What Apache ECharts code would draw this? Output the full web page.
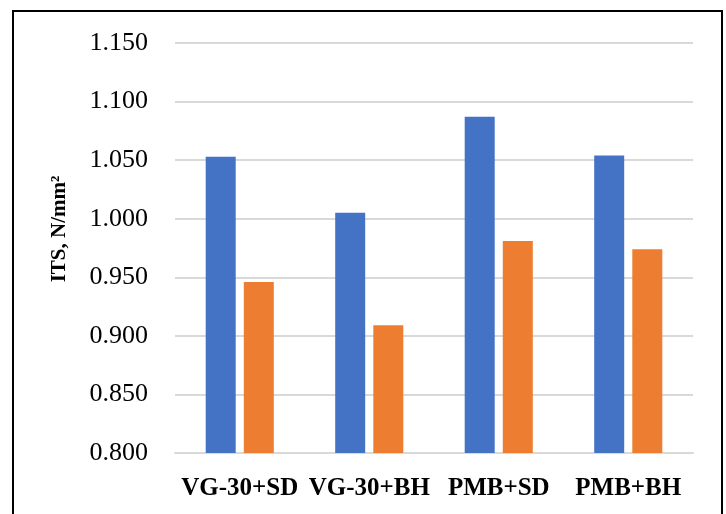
<!DOCTYPE html>
<html>
<head>
<meta charset="utf-8">
<script src="https://cdn.jsdelivr.net/npm/echarts@6/dist/echarts.min.js"></script>
<style>
  html, body { margin: 0; padding: 0; background: #fff; }
  #chart { width: 726px; height: 514px; }
</style>
</head>
<body>
<div id="chart"></div>
<script>
// Mix categories and the two ITS series (N/mm²)
const categories = ['VG-30+SD', 'VG-30+BH', 'PMB+SD', 'PMB+BH'];
const seriesA = [1.053, 1.005, 1.087, 1.054];
const seriesB = [0.946, 0.909, 0.981, 0.974];
const yTicks = { min: 0.8, max: 1.15, step: 0.05 };
const yTitle = 'ITS, N/mm²';

const serif = '"Liberation Serif", "DejaVu Serif", serif';

const chart = echarts.init(document.getElementById('chart'), null, { renderer: 'canvas' });

chart.setOption({
  animation: false,
  backgroundColor: '#ffffff',
  grid: { left: 175, right: 33, top: 43, bottom: 61, containLabel: false },
  xAxis: {
    type: 'category',
    data: categories,
    axisTick: { show: false },
    axisLine: { lineStyle: { color: '#d9d9d9', width: 2 } },
    axisLabel: {
      interval: 0,
      margin: 23,
      color: '#000',
      fontFamily: serif,
      fontWeight: 'bold',
      fontSize: 25
    }
  },
  yAxis: {
    type: 'value',
    min: yTicks.min,
    max: yTicks.max,
    interval: yTicks.step,
    axisLine: { show: false },
    axisTick: { show: false },
    splitLine: { lineStyle: { color: '#d9d9d9', width: 2 } },
    axisLabel: {
      margin: 27,
      color: '#000',
      fontFamily: serif,
      fontSize: 26,
      formatter: v => v.toFixed(3)
    }
  },
  graphic: [
    {
      type: 'rect',
      silent: true,
      shape: { x: 13, y: 11, width: 709, height: 520 },
      style: { fill: 'none', stroke: '#000', lineWidth: 2 }
    },
    {
      type: 'text',
      silent: true,
      x: 60,
      y: 229,
      rotation: Math.PI / 2,
      style: {
        text: yTitle,
        fill: '#000',
        font: 'bold 21px ' + serif,
        align: 'center',
        verticalAlign: 'middle'
      }
    }
  ],
  series: [
    {
      type: 'bar',
      data: seriesA,
      barWidth: 30,
      barGap: '27%',
      itemStyle: { color: '#4472c4' }
    },
    {
      type: 'bar',
      data: seriesB,
      barWidth: 30,
      barGap: '27%',
      itemStyle: { color: '#ed7d31' }
    }
  ]
});
</script>
</body>
</html>
